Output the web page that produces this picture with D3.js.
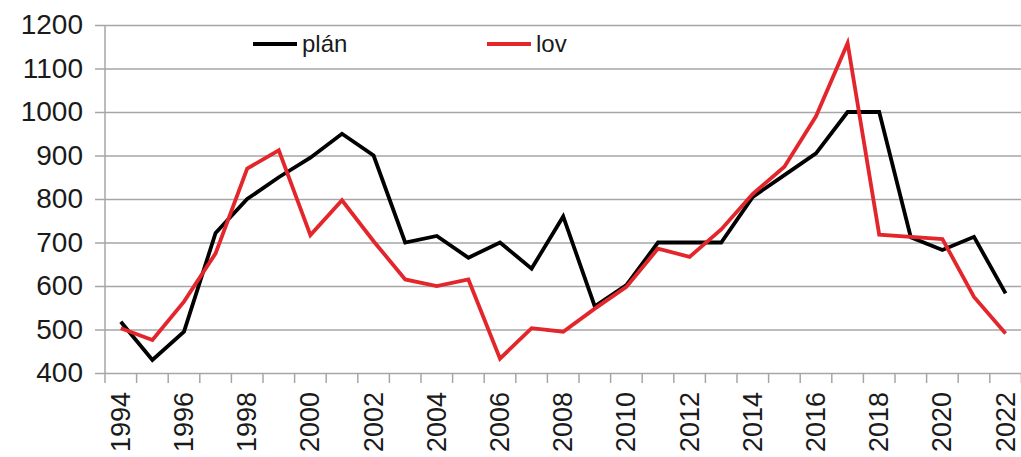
<!DOCTYPE html>
<html>
<head>
<meta charset="utf-8">
<script src="https://cdn.jsdelivr.net/npm/d3@7"></script>
<style>
  body { margin: 0; background: #fff; }
  svg { display: block; font-family: 'Liberation Sans', Arial, sans-serif; }
</style>
</head>
<body>
<div id="chart"></div>
<script>
const years = d3.range(1994, 2023).map(String);
const plan = [518, 430, 495, 722, 800, 850, 895, 950, 900, 700, 715, 665, 700, 640, 760, 553, 602, 700, 700, 700, 805, 855, 905, 1000, 1000, 712, 683, 713, 583];
const lov = [503, 476, 564, 675, 870, 912, 717, 797, 703, 615, 600, 615, 433, 503, 495, 548, 598, 686, 667, 730, 812, 874, 990, 1158, 718, 713, 708, 575, 491];
const yTicks = [400, 500, 600, 700, 800, 900, 1000, 1100, 1200];
const seriesNames = ['plán', 'lov'];

const width = 1021, height = 457;
const plotLeft = 105, plotTop = 25, plotBottom = 373;
const colors = ['#000000', '#e3262b'];

const svg = d3.select('#chart').append('svg')
  .attr('width', width).attr('height', height);

const x = d3.scaleBand().domain(years).range([plotLeft, plotLeft + 29 * 31.6]);
const y = d3.scaleLinear().domain([400, 1200]).range([plotBottom, plotTop]);

// gridlines + y labels
const yAxis = d3.axisLeft(y).tickValues(yTicks).tickFormat(d3.format('d'))
  .tickSize(-(width - plotLeft)).tickPadding(22);
svg.append('g')
  .attr('class', 'axis y')
  .attr('transform', 'translate(' + plotLeft + ',0)')
  .call(yAxis)
  .call(g => g.select('.domain').remove())
  .call(g => g.selectAll('.tick line').attr('stroke', '#a6a6a6').attr('stroke-width', 1.5).attr('x1', -10))
  .call(g => g.selectAll('.tick text').attr('font-size', 28).attr('fill', '#1a1a1a')
    .attr('font-family', "'Liberation Sans', Arial, sans-serif"));

// vertical axis line
svg.append('line')
  .attr('x1', plotLeft).attr('x2', plotLeft).attr('y1', plotTop).attr('y2', plotBottom + 10)
  .attr('stroke', '#a6a6a6').attr('stroke-width', 1.5);

// category boundary ticks
const bounds = years.map(d => x(d) + x.bandwidth());
svg.append('g').selectAll('line').data(bounds).enter().append('line')
  .attr('x1', d => d).attr('x2', d => d)
  .attr('y1', plotBottom).attr('y2', plotBottom + 10)
  .attr('stroke', '#a6a6a6').attr('stroke-width', 1.5);

// x labels every second year
svg.append('g').selectAll('text')
  .data(years.filter((d, i) => i % 2 === 0))
  .enter().append('text')
  .attr('transform', d => 'translate(' + (x(d) + x.bandwidth() / 2 + 9) + ',' + (plotBottom + 19) + ') rotate(-90)')
  .attr('text-anchor', 'end')
  .attr('font-size', 27)
  .attr('fill', '#1a1a1a')
  .text(d => d);

// lines
const line = d3.line()
  .x((d, i) => x(years[i]) + x.bandwidth() / 2)
  .y(d => y(d));

[plan, lov].forEach(function(data, i) {
  svg.append('path')
    .datum(data)
    .attr('fill', 'none')
    .attr('stroke', colors[i])
    .attr('stroke-width', 3.8)
    .attr('stroke-linejoin', 'miter')
    .attr('d', line);
});

// legend
const legendX = [253, 487];
seriesNames.forEach(function(name, i) {
  svg.append('line')
    .attr('x1', legendX[i]).attr('x2', legendX[i] + 44)
    .attr('y1', 44).attr('y2', 44)
    .attr('stroke', colors[i]).attr('stroke-width', 4);
  svg.append('text')
    .attr('x', legendX[i] + 49).attr('y', 52)
    .attr('font-size', 24)
    .attr('fill', '#1a1a1a')
    .text(name);
});
</script>
</body>
</html>
